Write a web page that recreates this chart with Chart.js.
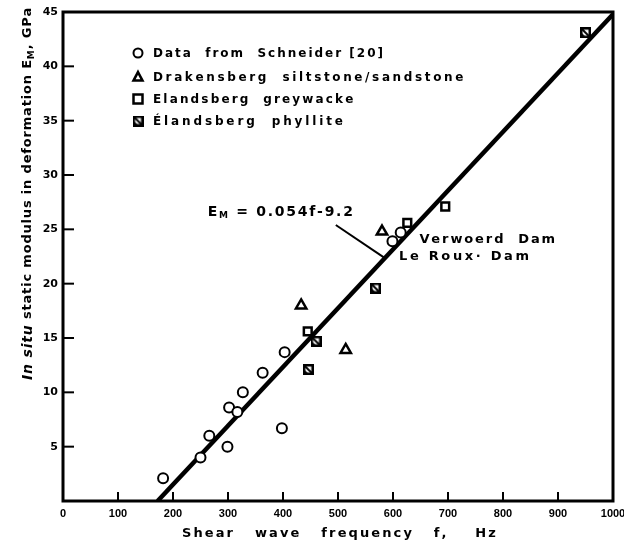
<!DOCTYPE html>
<html><head><meta charset="utf-8">
<script src="https://cdn.jsdelivr.net/npm/chart.js@4/dist/chart.umd.min.js"></script>
<style>html,body{margin:0;padding:0;background:#fff;} #wrap{width:624px;height:547px;position:relative;}</style>
</head><body><div id="wrap"><canvas id="c" width="624" height="547"></canvas></div>
<script>
// ---- data ----
const seriesLabels = ["Data  from  Schneider [20]", "Drakensberg  siltstone/sandstone", "Elandsberg  greywacke", "Élandsberg  phyllite"];
const schneiderF = [182, 250, 266, 299, 302, 317, 327, 363, 398, 403, 599, 614];
const schneiderE = [2.1, 4.0, 6.0, 5.0, 8.6, 8.2, 10.0, 11.8, 6.7, 13.7, 23.9, 24.7];
const drakensbergF = [433, 514, 580];
const drakensbergE = [18.0, 13.9, 24.8];
const greywackeF = [445, 626, 695];
const greywackeE = [15.6, 25.6, 27.1];
const phylliteF = [460, 446, 568, 950];
const phylliteE = [14.7, 12.1, 19.6, 43.1];
const fitF = [172, 1000];
const fitE = [0, 44.8];
const leaderF = [496, 584];
const leaderE = [25.4, 22.4];
const xTicks = [0, 100, 200, 300, 400, 500, 600, 700, 800, 900, 1000];
const yTicks = [0, 5, 10, 15, 20, 25, 30, 35, 40, 45];
const equationText = ["E", "M", " = 0.054f-9.2"];
const equationPos = [263, 26.6];
const damLabels = ["Verwoerd  Dam", "Le Roux· Dam"];
const damPos = [[648, 24.05], [611, 22.5]];
const xTitle = "Shear   wave   frequency   f,    Hz";

const FONT = "'DejaVu Sans', sans-serif";
function pts(F, E) { return F.map((f, i) => ({x: f, y: E[i]})); }

// hatched square marker
function hatchedMarker(size) {
  const c = document.createElement('canvas');
  c.width = size; c.height = size;
  const g = c.getContext('2d');
  g.fillStyle = '#fff'; g.fillRect(0, 0, size, size);
  g.strokeStyle = '#000'; g.lineWidth = 2.5;
  g.strokeRect(1.25, 1.25, size - 2.5, size - 2.5);
  g.lineWidth = 2;
  g.beginPath(); g.moveTo(1, 1); g.lineTo(size - 1, size - 1); g.stroke();
  g.fillStyle = '#000';
  g.beginPath(); g.moveTo(1, size * 0.45); g.lineTo(1, size - 1); g.lineTo(size * 0.55, size - 1); g.closePath(); g.fill();
  return c;
}
const hatch = hatchedMarker(11);

const markerStyles = [
  {pointStyle: 'circle', pointRadius: 5, borderWidth: 2},
  {pointStyle: 'triangle', pointRadius: 6, borderWidth: 2.5},
  {pointStyle: 'rect', pointRadius: 5.5, borderWidth: 2.5},
  {pointStyle: hatch, pointRadius: 5.5, borderWidth: 0}
];

function spacedText(ctx, segs, x, y, target) {
  let total = 0, n = 0;
  segs.forEach(s => { ctx.font = s.font; total += ctx.measureText(s.t).width; n += [...s.t].length; });
  const sp = target ? Math.max(0, (target - total) / Math.max(1, n - 1)) : 0;
  let cx = x;
  segs.forEach(s => {
    ctx.font = s.font;
    for (const ch of s.t) {
      ctx.fillText(ch, cx, y + (s.dy || 0));
      cx += ctx.measureText(ch).width + sp;
    }
  });
}

function drawMarker(ctx, m, x, y, r) {
  ctx.save();
  ctx.strokeStyle = '#000'; ctx.fillStyle = '#fff'; ctx.lineWidth = m.borderWidth || 2;
  if (m.pointStyle === 'circle') { ctx.beginPath(); ctx.arc(x, y, r, 0, Math.PI * 2); ctx.fill(); ctx.stroke(); }
  else if (m.pointStyle === 'triangle') {
    ctx.beginPath(); ctx.moveTo(x, y - r * 1.1); ctx.lineTo(x + r, y + r * 0.8); ctx.lineTo(x - r, y + r * 0.8); ctx.closePath(); ctx.fill(); ctx.stroke();
  } else if (m.pointStyle === 'rect') { ctx.fillRect(x - r, y - r, 2 * r, 2 * r); ctx.strokeRect(x - r, y - r, 2 * r, 2 * r); }
  else { ctx.drawImage(m.pointStyle, x - m.pointStyle.width / 2, y - m.pointStyle.height / 2); }
  ctx.restore();
}

const decor = {
  id: 'decor',
  afterDraw(chart) {
    const ctx = chart.ctx, ca = chart.chartArea, xs = chart.scales.x, ys = chart.scales.y;
    ctx.save();
    ctx.strokeStyle = '#000'; ctx.lineWidth = 3;
    ctx.strokeRect(ca.left, ca.top, ca.right - ca.left, ca.bottom - ca.top);
    ctx.lineWidth = 2;
    xTicks.forEach(v => { if (v > 0 && v < 1000) { const px = xs.getPixelForValue(v); ctx.beginPath(); ctx.moveTo(px, ca.bottom); ctx.lineTo(px, ca.bottom - 9); ctx.stroke(); } });
    yTicks.forEach(v => { if (v > 0 && v < 45) { const py = ys.getPixelForValue(v); ctx.beginPath(); ctx.moveTo(ca.left, py); ctx.lineTo(ca.left + 11, py); ctx.stroke(); } });

    ctx.fillStyle = '#000'; ctx.textBaseline = 'middle'; ctx.textAlign = 'left';
    const lx = 138, ly = [53, 77, 99, 121], tx = 153, tw = [230, 310, 200, 190];
    seriesLabels.forEach((lab, i) => {
      drawMarker(ctx, markerStyles[i], lx, ly[i], 4.5);
      spacedText(ctx, [{t: lab, font: 'bold 12px ' + FONT}], tx, ly[i] + 1, tw[i]);
    });
    const ex = xs.getPixelForValue(equationPos[0]), ey = ys.getPixelForValue(equationPos[1]);
    spacedText(ctx, [
      {t: equationText[0], font: 'bold 14px ' + FONT},
      {t: equationText[1], font: 'bold 9px ' + FONT, dy: 4},
      {t: equationText[2], font: 'bold 14px ' + FONT}
    ], ex, ey, 145);
    const dw = [135, 130];
    damLabels.forEach((t, i) => {
      spacedText(ctx, [{t, font: 'bold 13px ' + FONT}], xs.getPixelForValue(damPos[i][0]), ys.getPixelForValue(damPos[i][1]), dw[i]);
    });
    spacedText(ctx, [{t: xTitle, font: 'bold 13px ' + FONT}], 182, 534, 313);
    ctx.translate(28, 380); ctx.rotate(-Math.PI / 2);
    spacedText(ctx, [
      {t: "In situ", font: 'italic bold 14px ' + FONT},
      {t: " static modulus in deformation E", font: 'bold 13px ' + FONT},
      {t: "M", font: 'bold 9px ' + FONT, dy: 4},
      {t: ", GPa", font: 'bold 13px ' + FONT}
    ], 0, 0, 372);
    ctx.restore();
  }
};

const mk = (i, label, F, E) => Object.assign({
  type: 'scatter', label, data: pts(F, E),
  backgroundColor: '#fff', borderColor: '#000', pointBackgroundColor: '#fff', pointBorderColor: '#000',
  pointBorderWidth: markerStyles[i].borderWidth, pointHoverRadius: markerStyles[i].pointRadius
}, markerStyles[i]);

new Chart(document.getElementById('c'), {
  type: 'scatter',
  data: {
    datasets: [
      mk(0, seriesLabels[0], schneiderF, schneiderE),
      mk(1, seriesLabels[1], drakensbergF, drakensbergE),
      mk(2, seriesLabels[2], greywackeF, greywackeE),
      mk(3, seriesLabels[3], phylliteF, phylliteE),
      {type: 'line', label: 'fit', data: pts(fitF, fitE), borderColor: '#000', borderWidth: 4.5, pointRadius: 0, fill: false, tension: 0},
      {type: 'line', label: 'leader', data: pts(leaderF, leaderE), borderColor: '#000', borderWidth: 2, pointRadius: 0, fill: false, tension: 0}
    ]
  },
  options: {
    responsive: false, animation: false, devicePixelRatio: 1,
    layout: {padding: {left: 0, right: 11, top: 12, bottom: 0}},
    plugins: {legend: {display: false}, tooltip: {enabled: false}},
    scales: {
      x: {
        type: 'linear', min: 0, max: 1000,
        afterBuildTicks: s => { s.ticks = xTicks.map(v => ({value: v})); },
        afterFit: s => { s.height = 46; s.paddingRight = 0; s.paddingLeft = 0; },
        grid: {display: false, drawTicks: false}, border: {display: false},
        ticks: {color: '#000', padding: 6, maxRotation: 0, autoSkip: false, callback: v => String(v),
          font: {family: "'Liberation Sans', sans-serif", weight: 'bold', size: 11}}
      },
      y: {
        type: 'linear', min: 0, max: 45,
        afterBuildTicks: s => { s.ticks = yTicks.map(v => ({value: v})); },
        afterFit: s => { s.width = 63; s.paddingTop = 0; s.paddingBottom = 0; },
        grid: {display: false, drawTicks: false}, border: {display: false},
        ticks: {color: '#000', padding: 5, autoSkip: false, font: {family: FONT, weight: 'bold', size: 11}, callback: v => v === 0 ? '' : String(v)}
      }
    }
  },
  plugins: [decor]
});
</script></body></html>
